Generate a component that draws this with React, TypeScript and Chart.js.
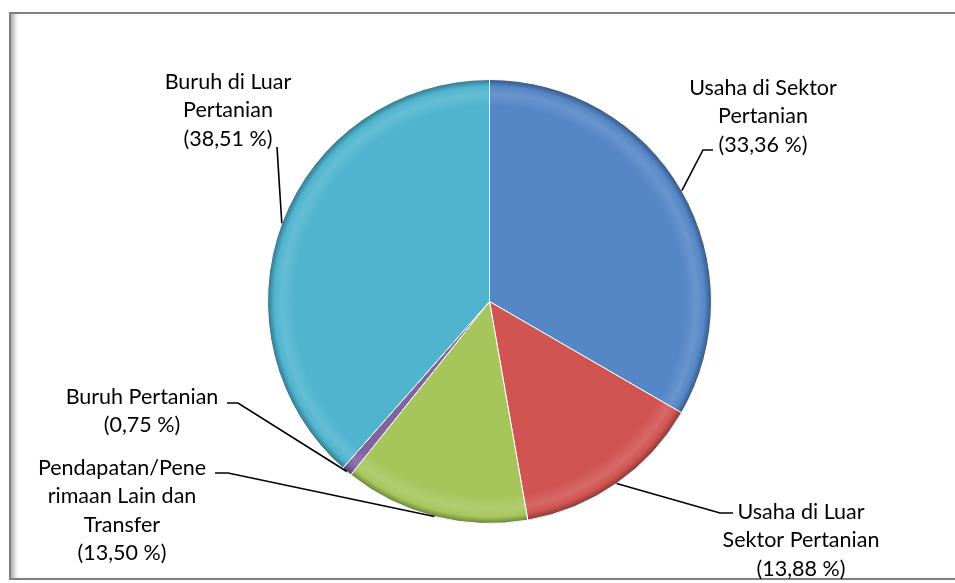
import React, { useEffect, useRef } from "react";
import { Chart, registerables } from "chart.js";

Chart.register(...registerables);

// ---- Data ----
const categories = [
  "Usaha di Sektor Pertanian",
  "Usaha di Luar Sektor Pertanian",
  "Pendapatan/Penerimaan Lain dan Transfer",
  "Buruh Pertanian",
  "Buruh di Luar Pertanian",
];
const shares = [33.36, 13.88, 13.5, 0.75, 38.51];
const labelLines = [
  ["Usaha di Sektor", "Pertanian"],
  ["Usaha di Luar", "Sektor Pertanian"],
  ["Pendapatan/Pene", "rimaan Lain dan", "Transfer"],
  ["Buruh Pertanian"],
  ["Buruh di Luar", "Pertanian"],
];
const sliceColors = ["#5586c6", "#d05452", "#a6c65c", "#8064a2", "#50b4cf"];

// ---- Label layout (text block centre x, first line y, elbow, horizontal end) ----
const labelLayout = [
  { tx: 763, ty: 88, ex: 703, ey: 150, hx: 713 },
  { tx: 801, ty: 512, ex: 720, ey: 513, hx: 733 },
  { tx: 122, ty: 468, ex: 228, ey: 473, hx: 215 },
  { tx: 142, ty: 397, ex: 238, ey: 403, hx: 227 },
  { tx: 228, ty: 82, ex: 277, ey: 147, hx: 277 },
];

const FONT = "21.5px Lato, 'Open Sans', sans-serif";
const LINE_H = 28.5;

function mix(hex: string, target: number, f: number): string {
  const n = parseInt(hex.slice(1), 16);
  const r = (n >> 16) & 255, g = (n >> 8) & 255, b = n & 255;
  const m = (c: number) => Math.round(c + (target - c) * f);
  return `rgb(${m(r)},${m(g)},${m(b)})`;
}

function fmt(v: number): string {
  return `(${v.toFixed(2).replace(".", ",")} %)`;
}

const labelPlugin = {
  id: "leaderLabels",
  afterDatasetsDraw(chart: any) {
    const ctx = chart.ctx;
    const meta = chart.getDatasetMeta(0);
    ctx.save();
    meta.data.forEach((arc: any, i: number) => {
      const p = arc.getProps(["x", "y", "startAngle", "endAngle", "outerRadius"], true);
      const mid = (p.startAngle + p.endAngle) / 2;
      const ax = p.x + Math.cos(mid) * p.outerRadius;
      const ay = p.y + Math.sin(mid) * p.outerRadius;
      const L = labelLayout[i];
      ctx.strokeStyle = "#000";
      ctx.lineWidth = 1.6;
      ctx.beginPath();
      ctx.moveTo(ax, ay);
      ctx.lineTo(L.ex, L.ey);
      ctx.lineTo(L.hx, L.ey);
      ctx.stroke();
      const lines = [...labelLines[i], fmt(shares[i])];
      ctx.fillStyle = "#000";
      ctx.font = FONT;
      ctx.textAlign = "center";
      ctx.textBaseline = "middle";
      lines.forEach((t, k) => ctx.fillText(t, L.tx, L.ty + k * LINE_H));
    });
    ctx.restore();
  },
};

export default function App() {
  const ref = useRef<HTMLCanvasElement | null>(null);

  useEffect(() => {
    if (!ref.current) return;
    const chart = new Chart(ref.current, {
      type: "pie",
      data: {
        labels: categories,
        datasets: [
          {
            data: shares,
            borderColor: "#ffffff",
            borderWidth: 1,
            backgroundColor: (c: any) => {
              const base = sliceColors[c.dataIndex];
              const area = c.chart.chartArea;
              if (!area) return base;
              const cx = (area.left + area.right) / 2;
              const cy = (area.top + area.bottom) / 2;
              const r = (Math.min(area.right - area.left, area.bottom - area.top) - 1) / 2;
              const g = c.chart.ctx.createRadialGradient(cx, cy, 0, cx, cy, r);
              g.addColorStop(0, base);
              g.addColorStop(0.88, base);
              g.addColorStop(0.935, mix(base, 255, 0.12));
              g.addColorStop(0.97, base);
              g.addColorStop(1, mix(base, 0, 0.35));
              return g;
            },
          },
        ],
      },
      options: {
        responsive: false,
        maintainAspectRatio: false,
        animation: false,
        devicePixelRatio: 1,
        layout: { padding: { top: 79, bottom: 59, left: 34, right: 10 } },
        plugins: {
          legend: { display: false },
          tooltip: { enabled: false },
        },
      },
      plugins: [labelPlugin],
    } as any);
    return () => chart.destroy();
  }, []);

  return (
    <div
      style={{
        position: "fixed",
        left: 0,
        top: 0,
        width: 955,
        height: 583,
        overflow: "hidden",
        background: "#fff",
      }}
    >
      <div
        style={{
          position: "absolute",
          left: 9,
          top: 12,
          width: 970,
          height: 564,
          border: "2px solid #808080",
          boxShadow: "inset 6px 0 5px -3px rgba(0,0,0,0.35)",
        }}
      />
      <canvas
        ref={ref}
        width={955}
        height={583}
        style={{ position: "absolute", left: 0, top: 0 }}
      />
    </div>
  );
}
